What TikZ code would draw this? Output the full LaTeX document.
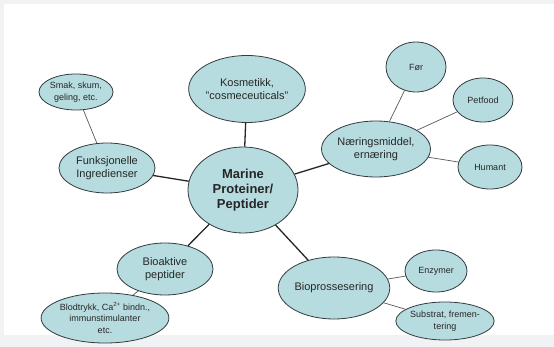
\documentclass[tikz,border=0pt]{standalone}
\usepackage{fontspec}
\setmainfont{Liberation Sans}
\usetikzlibrary{shapes.geometric}
\definecolor{bubblefill}{RGB}{183,220,224}
\definecolor{bubbleline}{RGB}{50,60,62}
\definecolor{edgegrey}{RGB}{241,242,244}
\tikzset{
   bubble/.style={ellipse, draw=bubbleline, fill=bubblefill, line width=0.8pt,
      inner sep=0pt, align=center, text=black!85},
   mainlink/.style={draw=black!85, line width=1.3pt},
   sublink/.style={draw=black!65, line width=0.7pt},
   small/.style={font=\fontsize{9}{11.5}\selectfont},
   medium/.style={font=\fontsize{11}{13}\selectfont},
    }

\begin{document}
\begin{tikzpicture}[x=1pt,y=-1pt]
            % page with the light grey frame
            \fill[edgegrey] (0,0) rectangle (554,347);
            \fill[white] (4,4) rectangle (554,335);
            \useasboundingbox (0,0) rectangle (554,347);
            % hub
            \node[bubble, minimum width=110pt, minimum height=86pt,
               font=\fontsize{13}{15}\bfseries] (hub) at (243,190) {Marine\\Proteiner/\\Peptider};
            % first ring
            \node[bubble, medium, minimum width=108pt, minimum height=67pt] (kosmetikk) at (247,89) {Kosmetikk,\\"cosmeceuticals"};
            \node[bubble, medium, minimum width=96pt, minimum height=50pt] (funksjonelle) at (107,168) {Funksjonelle\\Ingredienser};
            \node[bubble, medium, minimum width=108pt, minimum height=56pt] (naering) at (376,149) {N{\ae}ringsmiddel,\\ern{\ae}ring};
            \node[bubble, medium, minimum width=96pt, minimum height=52pt] (bioaktive) at (165,269) {Bioaktive\\peptider};
            \node[bubble, medium, minimum width=106pt, minimum height=62pt] (bioprosess) at (334,288) {Bioprossesering};
            % outer ring
            \node[bubble, small, minimum width=74pt, minimum height=36pt] (smak) at (76,92) {Smak, skum,\\geling, etc.};
            \node[bubble, small, minimum width=60pt, minimum height=50pt] (foer) at (416,67) {F{\o}r};
            \node[bubble, small, minimum width=60pt, minimum height=44pt] (petfood) at (483,100) {Petfood};
            \node[bubble, small, minimum width=64pt, minimum height=44pt] (humant) at (490,167) {Humant};
            \node[bubble, small, minimum width=120pt, minimum height=50pt] (blodtrykk) at (105,318) {Blodtrykk, Ca\textsuperscript{2+} bindn.,\\immunstimulanter\\etc.};
            \node[bubble, small, minimum width=62pt, minimum height=42pt] (enzymer) at (436,271) {Enzymer};
            \node[bubble, small, minimum width=94pt, minimum height=38pt] (substrat) at (445,321) {Substrat, fremen-\\tering};
            % links
            \draw[mainlink] (hub) -- (kosmetikk);
            \draw[mainlink] (hub) -- (funksjonelle);
            \draw[mainlink] (hub) -- (naering);
            \draw[mainlink] (hub) -- (bioaktive);
            \draw[mainlink] (hub) -- (bioprosess);
            \draw[sublink] (funksjonelle) -- (smak);
            \draw[sublink] (naering) -- (foer);
            \draw[sublink] (naering) -- (petfood);
            \draw[sublink] (naering) -- (humant);
            \draw[sublink] (bioaktive) -- (blodtrykk);
            \draw[sublink] (bioprosess) -- (enzymer);
            \draw[sublink] (bioprosess) -- (substrat);
        \end{tikzpicture}
\end{document}
